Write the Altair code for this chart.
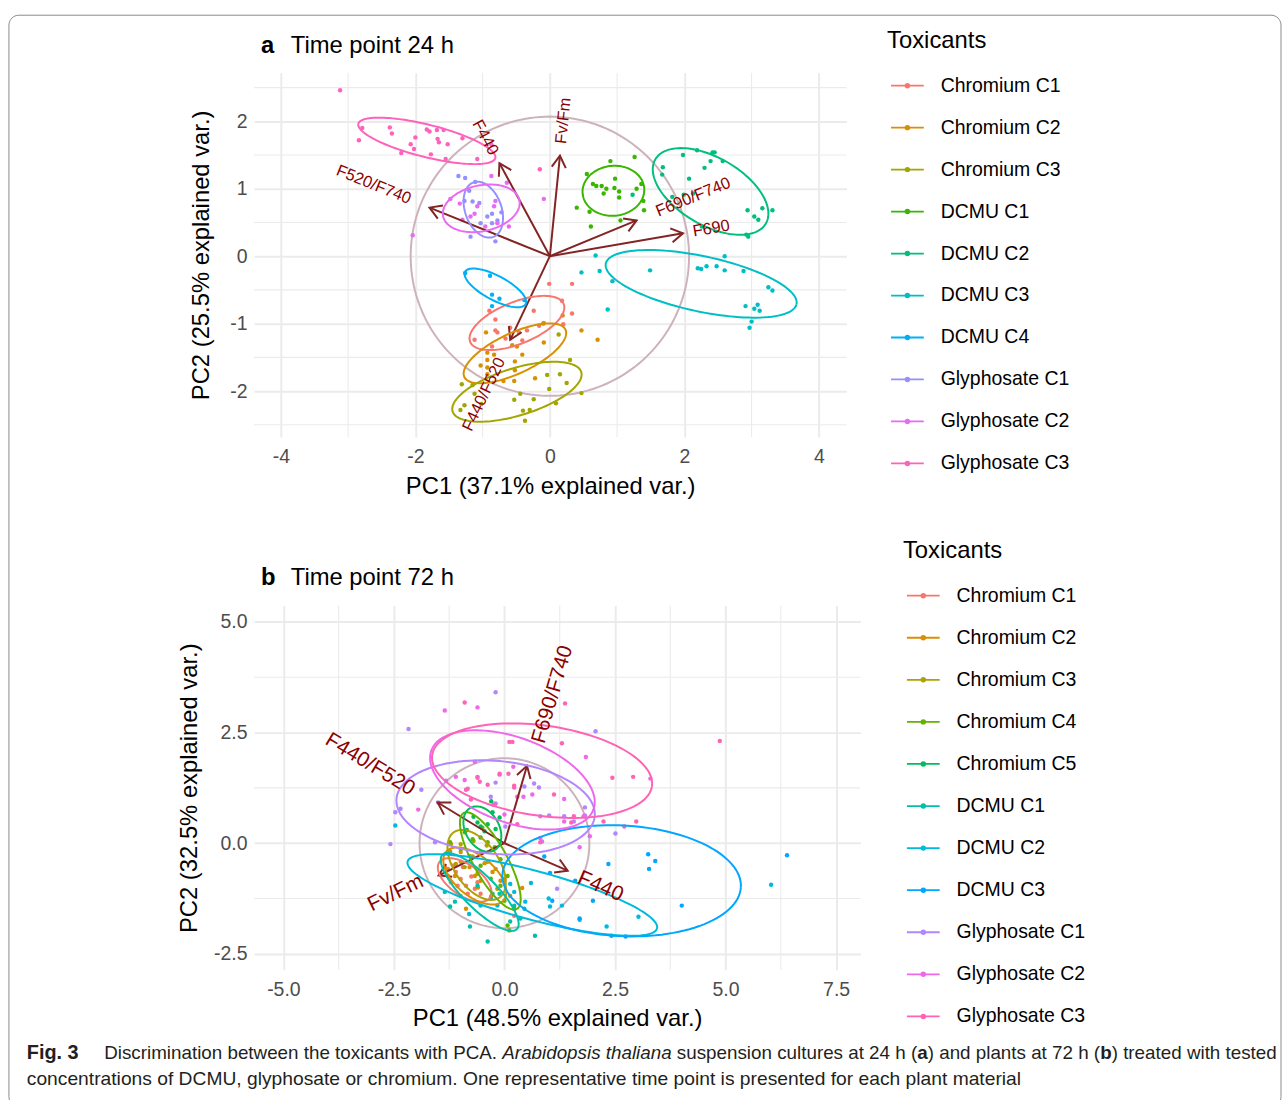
import math
import altair as alt
import pandas as pd

FONT = "Liberation Sans"

# ---------------- Panel a (24 h) ----------------
cats_a = ["Chromium C1", "Chromium C2", "Chromium C3", "DCMU C1", "DCMU C2", "DCMU C3",
          "DCMU C4", "Glyphosate C1", "Glyphosate C2", "Glyphosate C3"]
colors_a = ["#F8766D", "#D89000", "#A3A500", "#39B600", "#00BF7D", "#00BFC4",
            "#00B0F6", "#9590FF", "#E76BF3", "#FF62BC"]

pts_a_x = {
    "Chromium C1": [-0.01, 0.33, 0.18, 0.33, -0.24, -0.90, -0.81, -0.59, -0.78, -0.46, -0.34, -0.16, -0.09, -1.12, -0.86, -0.66, -0.41, -0.81, 0.20],
    "Chromium C2": [-0.95, 0.19, 0.47, 0.71, -0.09, -0.10, -0.49, -0.93, -0.83, -0.93, -1.03, -0.93, -0.52, -0.41, -0.52, -0.93, -0.69, -0.53, -0.22, -0.56],
    "Chromium C3": [-1.31, -1.15, -1.12, -1.27, -1.33, -1.02, -0.53, -0.44, -0.24, -0.40, -0.30, -0.37, -0.04, -0.01, 0.13, 0.30, 0.15, 0.25, 0.09, 0.47],
    "DCMU C1": [0.55, 0.90, 1.26, 0.64, 0.77, 0.84, 0.97, 0.96, 1.03, 1.03, 0.80, 1.29, 1.36, 1.39, 0.40, 0.59, 1.05, 1.40, 0.61, 0.69],
    "DCMU C2": [1.68, 1.67, 1.98, 2.19, 2.42, 2.45, 2.39, 2.57, 2.30, 2.07, 1.82, 1.99, 2.13, 2.94, 3.04, 3.16, 3.31, 3.10, 2.92, 2.95, 2.26, 1.23],
    "DCMU C3": [0.68, 0.47, 0.74, 0.93, 0.86, 1.49, 2.20, 2.25, 2.33, 2.48, 2.60, 2.60, 2.88, 3.25, 3.31, 2.91, 3.09, 3.04, 3.12, 3.00, 2.97],
    "DCMU C4": [-1.26, -0.89, -0.86, -0.75, -0.86, -0.38],
    "Glyphosate C1": [-1.36, -1.26, -1.11, -1.15, -1.05, -1.27, -0.93, -0.86, -0.78, -0.72, -0.86, -1.18, -0.81, -1.03, -1.20],
    "Glyphosate C2": [-0.87, -0.64, -1.48, -1.34, -0.81, -1.08, -1.18, -1.30, -0.61, -1.12, -0.96, -0.83, -0.78, -2.04, -0.09],
    "Glyphosate C3": [-3.12, -2.79, -2.84, -2.38, -2.35, -2.21, -2.07, -2.02, -2.00, -1.83, -1.79, -1.68, -1.58, -1.67, -1.65, -1.52, -1.77, -1.55, -1.30, -1.08, -0.87, -0.15],
}
pts_a_y = {
    "Chromium C1": [-0.41, -0.41, -0.66, -0.85, -0.81, -0.81, -0.94, -1.06, -1.13, -1.13, -1.10, -1.03, -0.99, -1.24, -1.34, -1.22, -1.25, -1.10, -1.01],
    "Chromium C2": [-1.13, -0.88, -1.10, -1.24, -1.28, -1.00, -1.34, -1.43, -1.46, -1.54, -1.62, -1.65, -1.56, -1.46, -1.69, -1.75, -1.85, -1.85, -1.81, -1.32],
    "Chromium C3": [-1.90, -1.91, -2.04, -2.21, -2.28, -2.19, -2.13, -2.04, -2.12, -2.29, -2.28, -2.44, -1.76, -1.97, -1.16, -1.54, -1.75, -1.88, -2.18, -2.03],
    "DCMU C1": [1.22, 1.41, 1.47, 1.07, 1.04, 1.00, 1.15, 1.01, 0.96, 0.87, 0.93, 1.00, 1.07, 0.82, 0.72, 0.66, 0.53, 0.68, 0.44, 1.04],
    "DCMU C2": [1.32, 1.21, 1.50, 1.57, 1.54, 1.54, 1.41, 1.41, 1.31, 1.15, 0.88, 0.91, 0.93, 0.68, 0.59, 0.71, 0.68, 0.54, 0.32, 0.29, 0.44, 0.91],
    "DCMU C3": [0.01, -0.24, -0.22, -0.37, -0.79, -0.21, -0.18, -0.19, -0.15, -0.15, 0.00, -0.21, -0.22, -0.46, -0.51, -0.74, -0.72, -0.78, -0.81, -0.97, -1.06],
    "DCMU C4": [-0.25, -0.29, -0.57, -0.63, -0.74, -0.65],
    "Glyphosate C1": [1.19, 1.16, 1.10, 0.81, 0.79, 0.82, 0.59, 0.63, 0.53, 0.65, 0.49, 0.29, 0.22, 0.49, 0.97],
    "Glyphosate C2": [1.19, 1.09, 0.85, 0.78, 0.82, 0.74, 0.59, 0.54, 0.44, 0.63, 0.44, 0.74, 0.49, 0.31, 0.85],
    "Glyphosate C3": [2.46, 1.90, 1.72, 1.91, 1.82, 1.53, 1.66, 1.59, 1.76, 1.88, 1.85, 1.87, 1.87, 1.74, 1.69, 1.66, 1.51, 1.44, 1.75, 1.44, 1.66, 1.29],
}
# ellipse: centre x, centre y, semi-major, semi-minor, angle (deg)
ell_a = {
    "Chromium C1": (-0.49, -0.99, 0.75, 0.31, 22),
    "Chromium C2": (-0.52, -1.44, 0.83, 0.30, 25),
    "Chromium C3": (-0.49, -2.01, 1.00, 0.35, 17),
    "DCMU C1": (0.945, 0.97, 0.46, 0.37, 5),
    "DCMU C2": (2.39, 0.96, 0.95, 0.50, -30),
    "DCMU C3": (2.25, -0.41, 1.45, 0.41, -12),
    "DCMU C4": (-0.81, -0.47, 0.51, 0.18, -28),
    "Glyphosate C1": (-0.99, 0.69, 0.43, 0.27, 110),
    "Glyphosate C2": (-1.02, 0.71, 0.58, 0.34, 12),
    "Glyphosate C3": (-1.83, 1.71, 1.05, 0.24, -14),
}
vars_a = ["Fv/Fm", "F440", "F520/F740", "F690/F740", "F690", "F440/F520"]
load_a_x = [0.15, -0.75, -1.79, 1.29, 1.98, -0.59]
load_a_y = [1.49, 1.38, 0.72, 0.53, 0.34, -1.24]
lab_a_x = [0.20, -0.96, -2.62, 2.13, 2.40, -0.98]
lab_a_y = [2.01, 1.76, 1.06, 0.875, 0.41, -2.05]
circle_a = 2.07

# ---------------- Panel b (72 h) ----------------
cats_b = ["Chromium C1", "Chromium C2", "Chromium C3", "Chromium C4", "Chromium C5",
          "DCMU C1", "DCMU C2", "DCMU C3", "Glyphosate C1", "Glyphosate C2", "Glyphosate C3"]
colors_b = ["#F8766D", "#DB8E00", "#AEA200", "#64B200", "#00BD5C", "#00C1A7",
            "#00BADE", "#00A6FF", "#B385FF", "#EF67EB", "#FF63B6"]

pts_b_x = {
    "Chromium C1": [-1.35, -1.28, -1.21, -1.10, -0.99, -0.87, -0.83, -0.67, -1.06, -0.54, -0.61, -0.94, 0.22, -1.15, -0.75],
    "Chromium C2": [-1.23, -0.99, -0.99, -0.79, -0.67, -0.54, -0.27, -0.09, 0.13, 0.40, 0.22, -1.12, -0.99, -0.87, -1.28, -0.45, -0.72, -0.60, -0.30],
    "Chromium C3": [-1.21, -1.28, -0.99, -0.79, -0.54, -0.38, -0.20, 0.00, -0.16, -0.61, -0.90, -1.10, -0.70, -0.40],
    "Chromium C4": [-0.90, -0.72, -0.38, -0.22, -0.09, 0.07, -0.09, 0.22, 0.07, 0.11, 0.00, -0.31, -0.54, -0.99, -1.23, -0.50],
    "Chromium C5": [-0.27, -0.11, -0.54, -0.38, -0.61, -0.45, -0.20, -0.54, -0.70, -0.30, -0.85],
    "DCMU C1": [-1.12, -1.23, -0.78, -0.38, 0.45, 0.36, 0.13, -0.31, -0.54, 0.69, 0.22, -0.11, -0.61, -1.35],
    "DCMU C2": [-2.47, -0.16, -0.27, 0.13, 0.22, 0.47, 1.03, 1.30, 1.00, 3.03, 1.70, 2.31, 6.03, -0.80, 0.60],
    "DCMU C3": [1.03, 1.08, 3.25, 3.41, 3.27, 2.35, 6.39, 4.01, 2.42, 2.74, 1.70, 1.60, 0.90, 2.00],
    "Glyphosate C1": [-2.17, -0.20, -1.88, -1.32, -0.20, -0.31, 2.06, -2.47, -2.35, -1.50, 0.45, 0.67, 0.78, 0.81, 1.01, 1.35, 1.57, 1.82, 0.02, -2.58, 2.51, 1.82, 1.19, 0.85, -1.57, -0.20],
    "Glyphosate C2": [-1.35, -0.61, -1.10, -0.90, -0.67, 0.20, 1.84, 3.30, -0.11, -1.95, -0.61, -0.25, 0.43, 0.63, 1.79, 1.35, 1.93, 1.70, 0.00, 1.35, 0.81],
    "Glyphosate C3": [-0.90, 1.37, 0.11, 0.18, -0.61, -0.56, -0.38, -0.11, 0.09, -0.87, 1.30, 2.44, 2.91, 4.87, -0.83, 0.22, 0.29, 1.12, 1.57, 0.29, 0.81, 2.24, 2.71, 2.98, 1.51, -0.76, -0.22, 0.22],
}
pts_b_y = {
    "Chromium C1": [-0.52, -0.74, -0.88, -0.65, -0.81, -0.96, -1.14, -1.03, -0.96, -1.14, -0.88, -0.54, -1.64, -0.50, -0.75],
    "Chromium C2": [-0.18, -0.20, -0.42, -0.54, -0.74, -0.85, -0.65, -0.85, -1.19, -1.01, -1.48, -0.74, -1.19, -1.48, -0.58, -0.45, -0.30, -1.00, -1.20],
    "Chromium C3": [-0.02, -0.20, -0.02, -0.29, -0.20, -0.42, -0.58, -0.81, -1.03, -0.69, -0.54, -0.47, 0.05, -0.05],
    "Chromium C4": [0.25, 0.09, 0.02, -0.09, -0.36, -0.74, -0.96, -1.48, -1.86, -1.97, -1.30, -0.80, -0.51, -0.13, 0.02, 0.35],
    "Chromium C5": [0.70, 0.58, 0.38, 0.43, 0.47, 0.27, 0.32, 0.13, 0.60, 0.95, 0.30],
    "DCMU C1": [-1.32, -1.43, -1.88, -2.22, -1.48, -1.70, -1.77, -1.25, -1.41, -2.09, -1.41, -1.14, -0.96, -1.10],
    "DCMU C2": [0.40, -1.41, -1.14, -0.92, -1.10, -1.32, -1.43, -1.41, -1.25, -1.66, -1.73, -1.88, -0.94, -1.60, -0.90],
    "DCMU C3": [-0.67, -1.30, -0.25, -0.40, -0.58, -0.47, -0.27, -1.41, -2.09, -2.11, -1.70, -0.85, -0.30, -1.30],
    "Glyphosate C1": [2.58, 3.41, 1.21, 1.41, 1.37, 1.05, 2.53, 0.70, 0.78, 0.92, 1.28, 1.35, 1.26, 0.61, 0.63, 0.61, 0.49, 0.81, 0.38, -0.02, 0.22, 0.63, -1.03, 0.04, 0.02, 0.90],
    "Glyphosate C2": [3.00, 3.07, 1.50, 1.43, 1.84, 1.73, 1.95, 1.46, 1.55, 0.76, 1.50, 0.87, 1.05, 1.10, 0.61, 0.49, 0.16, -0.09, 0.65, 1.00, 0.12],
    "Glyphosate C3": [3.18, 3.16, 2.29, 2.29, 1.48, 1.39, 1.32, 1.57, 1.57, 1.21, 2.26, 1.48, 1.50, 2.31, 1.23, 1.26, 1.05, 1.10, 0.61, 0.43, 0.02, 0.49, 0.38, 0.49, 0.47, 0.99, 0.87, 1.30],
}
ell_b = {
    "Chromium C1": (-0.90, -0.83, 0.70, 0.35, -35),
    "Chromium C2": (-0.67, -0.74, 0.85, 0.45, -40),
    "Chromium C3": (-0.63, -0.49, 0.90, 0.50, -55),
    "Chromium C4": (-0.32, -0.40, 1.24, 0.38, -61),
    "Chromium C5": (-0.50, 0.32, 0.55, 0.38, -60),
    "DCMU C1": (-0.56, -1.10, 1.19, 0.37, -45),
    "DCMU C2": (0.63, -1.17, 2.92, 0.55, -15),
    "DCMU C3": (2.65, -0.85, 2.70, 1.25, -3),
    "Glyphosate C1": (-0.20, 0.81, 2.25, 1.05, -5),
    "Glyphosate C2": (0.18, 1.43, 1.95, 0.96, -20),
    "Glyphosate C3": (0.85, 1.64, 2.51, 1.02, -8),
}
vars_b = ["F690/F740", "F440/F520", "Fv/Fm", "F440"]
load_b_x = [0.51, -1.51, -1.49, 1.43]
load_b_y = [1.75, 0.92, -0.73, -0.62]
lab_b_x = [1.09, -3.04, -2.46, 2.17]
lab_b_y = [3.36, 1.78, -1.13, -0.98]
circle_b = 1.92

# axis ticks (major carry labels, minor are grid only)
xa_major = [-4, -2, 0, 2, 4]
xa_minor = [-3, -1, 1, 3]
ya_major = [-2, -1, 0, 1, 2]
ya_minor = [-2.5, -1.5, -0.5, 0.5, 1.5, 2.5]
xb_major = [-5, -2.5, 0, 2.5, 5, 7.5]
xb_minor = [-3.75, -1.25, 1.25, 3.75, 6.25]
yb_major = [-2.5, 0, 2.5, 5]
yb_minor = [-1.25, 1.25, 3.75]

ARROW = "#832424"
LABEL = "#8B0000"
CIRCLE = "#CDB2BB"
GRID = "#EBEBEB"
OX, OY_A = 255, 68          # panel a plot origin on the page
OY_B = 605                  # panel b plot origin on the page


def points_df(px, py):
    rows = []
    for g in px:
        for xv, yv in zip(px[g], py[g]):
            rows.append({"group": g, "x": xv, "y": yv})
    return pd.DataFrame(rows)


def ellipse_df(params, n=120):
    rows = []
    for g, (cx, cy, a, b, ang) in params.items():
        th = math.radians(ang)
        for k in range(n + 1):
            t = 2 * math.pi * k / n
            ex, ey = a * math.cos(t), b * math.sin(t)
            rows.append({"group": g, "k": k,
                         "x": cx + ex * math.cos(th) - ey * math.sin(th),
                         "y": cy + ex * math.sin(th) + ey * math.cos(th)})
    return pd.DataFrame(rows)


def one_row():
    return pd.DataFrame({"d": [1]})


def panel(cats, colors, px, py, ell, vnames, vx, vy, lx, ly, r,
          xdom, ydom, xmaj, xmin, ymaj, ymin, fmt, xtitle, ytitle, W, H,
          var_size, letter, title, title_y, leg, extra=None, ytp=14):
    xs = alt.Scale(domain=xdom, nice=False, zero=False)
    ys = alt.Scale(domain=ydom, nice=False, zero=False)
    cs = alt.Scale(domain=cats, range=colors)
    lab = "replace(datum.label, '\u2212', '-')"

    gx = alt.Chart(pd.DataFrame({"x": xmin})).mark_rule(color=GRID, strokeWidth=1.1).encode(
        x=alt.X("x:Q", scale=xs), y=alt.value(0), y2=alt.value(H))
    gy = alt.Chart(pd.DataFrame({"y": ymin})).mark_rule(color=GRID, strokeWidth=1.1).encode(
        y=alt.Y("y:Q", scale=ys), x=alt.value(0), x2=alt.value(W))

    circ = ellipse_df({"circle": (0, 0, r, r, 0)}, 180)
    c_layer = alt.Chart(circ).mark_line(color=CIRCLE, strokeWidth=2).encode(
        x=alt.X("x:Q", scale=xs,
                axis=alt.Axis(values=xmaj, format=fmt, labelExpr=lab, title=xtitle,
                              labelPadding=11, titlePadding=8)),
        y=alt.Y("y:Q", scale=ys,
                axis=alt.Axis(values=ymaj, format=fmt, labelExpr=lab, title=ytitle,
                              labelPadding=7, titlePadding=ytp)),
        order="k:Q")

    pts = alt.Chart(points_df(px, py)).mark_circle(size=20, opacity=1).encode(
        x=alt.X("x:Q", scale=xs), y=alt.Y("y:Q", scale=ys),
        color=alt.Color("group:N", scale=cs, legend=None))

    vdf = pd.DataFrame({"v": vnames, "x": vx, "y": vy, "lx": lx, "ly": ly,
                        "x0": [0.0] * len(vnames), "y0": [0.0] * len(vnames)})
    arrows = alt.Chart(vdf).mark_rule(color=ARROW, strokeWidth=2).encode(
        x=alt.X("x0:Q", scale=xs), y=alt.Y("y0:Q", scale=ys), x2="x:Q", y2="y:Q")
    heads = alt.Chart(vdf).transform_calculate(
        ang="(360 - atan2(datum.y, datum.x) * 180 / PI) % 360"
    ).mark_point(shape="M-1,-0.6L0,0L-1,0.6", filled=False, color=ARROW,
                 strokeWidth=2, size=560, opacity=1).encode(
        x=alt.X("x:Q", scale=xs), y=alt.Y("y:Q", scale=ys),
        angle=alt.Angle("ang:Q", scale=None))

    ells = alt.Chart(ellipse_df(ell)).mark_line(strokeWidth=2).encode(
        x=alt.X("x:Q", scale=xs), y=alt.Y("y:Q", scale=ys),
        color=alt.Color("group:N", scale=cs, legend=None),
        detail="group:N", order="k:Q")

    labels = alt.Chart(vdf).transform_calculate(
        ang="(360 - atan(datum.y / datum.x) * 180 / PI) % 360"
    ).mark_text(font=FONT, fontSize=var_size, color=LABEL, align="center",
                baseline="middle").encode(
        x=alt.X("lx:Q", scale=xs), y=alt.Y("ly:Q", scale=ys),
        text="v:N", angle=alt.Angle("ang:Q", scale=None))

    t1 = alt.Chart(one_row()).mark_text(font=FONT, fontSize=24, fontWeight="bold",
                                        align="left", baseline="middle").encode(
        x=alt.value(7), y=alt.value(title_y), text=alt.value(letter))
    t2 = alt.Chart(one_row()).mark_text(font=FONT, fontSize=24, align="left",
                                        baseline="middle").encode(
        x=alt.value(37), y=alt.value(title_y), text=alt.value(title))

    lx0, ly0, dy, ty_ = leg
    ldf = pd.DataFrame({"label": cats, "idx": list(range(len(cats)))})
    lbase = alt.Chart(ldf).transform_calculate(py=f"{ly0} + datum.idx * {dy}")
    l_rule = lbase.mark_rule(strokeWidth=1.8).encode(
        x=alt.value(lx0 + 4), x2=alt.value(lx0 + 37),
        y=alt.Y("py:Q", scale=None, axis=None),
        color=alt.Color("label:N", scale=cs, legend=None))
    l_pt = lbase.mark_circle(size=30, opacity=1).encode(
        x=alt.value(lx0 + 20.5), y=alt.Y("py:Q", scale=None, axis=None),
        color=alt.Color("label:N", scale=cs, legend=None))
    l_txt = lbase.mark_text(font=FONT, fontSize=19.6, align="left", baseline="middle",
                            color="black").encode(
        x=alt.value(lx0 + 54), y=alt.Y("py:Q", scale=None, axis=None), text="label:N")
    l_title = alt.Chart(one_row()).mark_text(font=FONT, fontSize=24, align="left",
                                             baseline="middle").encode(
        x=alt.value(lx0), y=alt.value(ty_), text=alt.value("Toxicants"))

    layers = [gx, gy, c_layer, pts, arrows, heads, ells, labels, t1, t2,
              l_rule, l_pt, l_txt, l_title]
    if extra:
        layers += extra
    return alt.layer(*layers).properties(width=W, height=H)


# frame (drawn in panel a coordinates)
frame = alt.Chart(one_row()).mark_rect(filled=False, stroke="#8A8A8A", strokeWidth=1,
                                       cornerRadius=10).encode(
    x=alt.value(8 - OX), x2=alt.value(1290 - OX), y=alt.value(10 - OY_A),
    y2=alt.value(1110 - OY_A))

# caption: Arial-metric widths to lay mixed-style runs side by side
W_REG = {" ": 278, "(": 333, ")": 333, ".": 278, ",": 278, "/": 278,
         "a": 556, "b": 556, "c": 500, "d": 556, "e": 556, "f": 278, "g": 556, "h": 556,
         "i": 222, "j": 222, "k": 500, "l": 222, "m": 833, "n": 556, "o": 556, "p": 556,
         "q": 556, "r": 333, "s": 500, "t": 278, "u": 556, "v": 500, "w": 722, "x": 500,
         "y": 500, "z": 500, "A": 667, "C": 722, "D": 722, "F": 611, "M": 833, "O": 778,
         "P": 667, "U": 722}
W_BOLD = {" ": 278, ".": 278, "F": 611, "i": 278, "g": 611, "a": 556, "b": 611}


def tw(s, size, bold):
    tab = W_BOLD if bold else W_REG
    return sum(tab.get(c, 556) for c in s) * size / 1000.0


cap_line1 = [("Discrimination between the toxicants with PCA. ", "normal", "normal"),
             ("Arabidopsis thaliana", "normal", "italic"),
             (" suspension cultures at 24 h (", "normal", "normal"),
             ("a", "bold", "normal"),
             (") and plants at 72 h (", "normal", "normal"),
             ("b", "bold", "normal"),
             (") treated with tested", "normal", "normal")]
cap_line2 = "concentrations of DCMU, glyphosate or chromium. One representative time point is presented for each plant material"
CAP1, CAP2 = 18.95, 19.4


def cap_text(txt, x, y, size, fw="normal", fs="normal"):
    return alt.Chart(one_row()).mark_text(
        font=FONT, fontSize=size, fontWeight=fw, fontStyle=fs, align="left",
        baseline="middle", color="#231F20").encode(
        x=alt.value(x - OX), y=alt.value(y - OY_B), text=alt.value(txt))


caption = [cap_text("Fig. 3", 26, 1056, 20, "bold")]
cx = 104.0
for txt, fw, fs in cap_line1:
    lead = len(txt) - len(txt.lstrip(" "))
    caption.append(cap_text(txt.strip(" "), cx + tw(" " * lead, CAP1, False), 1056, CAP1, fw, fs))
    cx += tw(txt, CAP1, fw == "bold")
caption.append(cap_text(cap_line2, 26, 1082, CAP2))

pa = panel(cats_a, colors_a, pts_a_x, pts_a_y, ell_a, vars_a, load_a_x, load_a_y,
           lab_a_x, lab_a_y, circle_a, [-4.40, 4.41], [-2.68, 2.72],
           xa_major, xa_minor, ya_major, ya_minor, "d",
           "PC1 (37.1% explained var.)", "PC2 (25.5% explained var.)",
           597, 367, 16.5, "a", "Time point 24 h", 41 - OY_A,
           (893 - OX, 81 - OY_A, 42.3, 36 - OY_A), extra=[frame], ytp=16)
pb = panel(cats_b, colors_b, pts_b_x, pts_b_y, ell_b, vars_b, load_b_x, load_b_y,
           lab_b_x, lab_b_y, circle_b, [-5.664, 8.047], [-2.86, 5.37],
           xb_major, xb_minor, yb_major, yb_minor, ".1f",
           "PC1 (48.5% explained var.)", "PC2 (32.5% explained var.)",
           611, 367, 21, "b", "Time point 72 h", 577 - OY_B,
           (909 - OX, 595 - OY_B, 42.4, 550 - OY_B), extra=caption, ytp=12)

chart = alt.vconcat(pa, pb, spacing=OY_B - OY_A - 367, bounds="flush").resolve_scale(
    x="independent", y="independent", color="independent"
).properties(
    padding={"left": 8, "top": 10, "right": 0, "bottom": 0}
).configure_view(stroke=None).configure_axis(
    grid=True, gridColor=GRID, gridWidth=2, domain=False, ticks=False,
    labelFont=FONT, labelFontSize=19.6, labelColor="#4D4D4D",
    titleFont=FONT, titleFontSize=24, titleFontWeight="normal", titleColor="black"
)

chart.save("out.html", embed_options={"renderer": "svg", "actions": False})
